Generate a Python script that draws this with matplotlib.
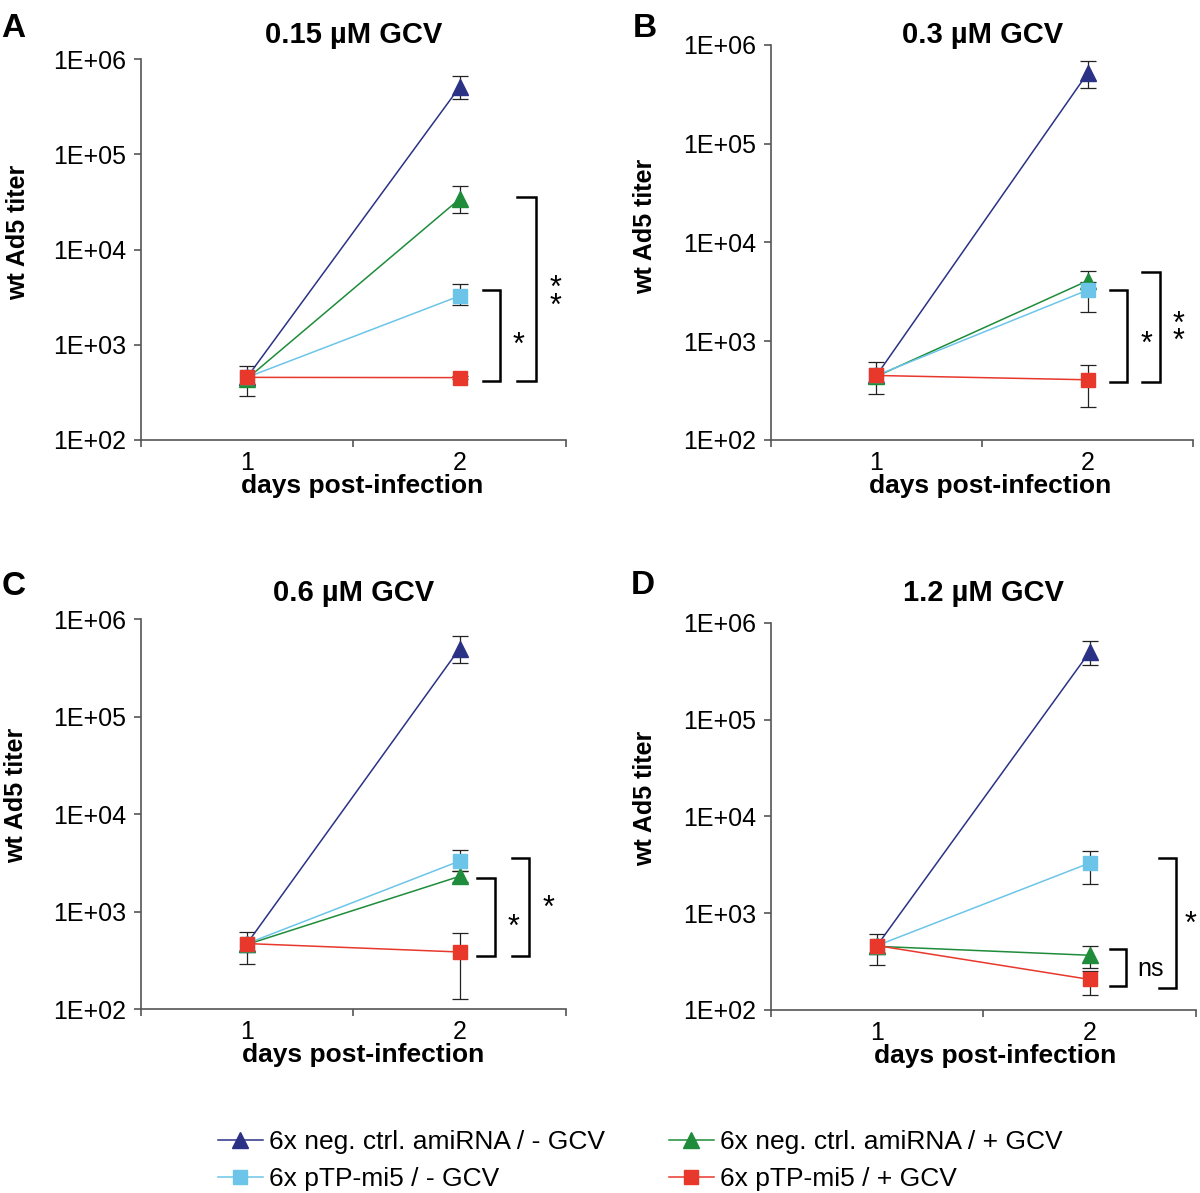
import numpy as np
import matplotlib

matplotlib.use('Agg')
from matplotlib import pyplot as plt
from matplotlib.lines import Line2D

plt.rcParams['font.family'] = ['Liberation Sans', 'DejaVu Sans']

nan = np.nan
days = [1, 2]
titles = ['0.15 µM GCV', '0.3 µM GCV', '0.6 µM GCV', '1.2 µM GCV']
letters = ['A', 'B', 'C', 'D']
names = ['6x neg. ctrl. amiRNA / - GCV', '6x neg. ctrl. amiRNA / + GCV',
         '6x pTP-mi5 / - GCV', '6x pTP-mi5 / + GCV']
colors = ['#2b3285', '#1e8c3a', '#6cc5e9', '#e8372b']
markers = ['^', '^', 's', 's']

# mean titer, one row per panel (A-D), columns = day 1, day 2
neg_minus = [[455, 5.1e5], [450, 5.2e5], [470, 5.0e5], [463, 5.0e5]]
neg_plus = [[440, 3.4e4], [440, 4.1e3], [460, 2.3e3], [455, 368]]
mi5_minus = [[455, 3.26e3], [450, 3.3e3], [470, 3.3e3], [463, 3.3e3]]
mi5_plus = [[455, 452], [450, 407], [470, 385], [463, 207]]

# error bar ends (upper / lower)
neg_minus_hi = [[605, 6.7e5], [615, 6.9e5], [615, 6.7e5], [615, 6.5e5]]
neg_minus_lo = [[290, 3.8e5], [290, 3.7e5], [293, 3.6e5], [290, 3.7e5]]
neg_plus_hi = [[nan, 4.7e4], [nan, 5.2e3], [nan, 2.6e3], [nan, 462]]
neg_plus_lo = [[nan, 2.4e4], [nan, 3.4e3], [nan, 2.0e3], [nan, 272]]
mi5_minus_hi = [[nan, 4.4e3], [nan, 4.0e3], [nan, 4.3e3], [nan, 4.4e3]]
mi5_minus_lo = [[nan, 2.6e3], [nan, 2.0e3], [nan, 2.6e3], [nan, 2.0e3]]
mi5_plus_hi = [[nan, 470], [nan, 570], [nan, 610], [nan, 254]]
mi5_plus_lo = [[nan, 435], [nan, 218], [nan, 128], [nan, 144]]

means = [neg_minus, neg_plus, mi5_minus, mi5_plus]
his = [neg_minus_hi, neg_plus_hi, mi5_minus_hi, mi5_plus_hi]
los = [neg_minus_lo, neg_plus_lo, mi5_minus_lo, mi5_plus_lo]

# significance brackets: (top, bottom, x of vertical, x of arms)
brackets = [
    [(3.8e3, 418, 2.191, 2.111), (3.6e4, 415, 2.359, 2.271)],
    [(3.3e3, 386, 2.186, 2.104), (5.0e3, 386, 2.340, 2.257)],
    [(2.2e3, 352, 2.167, 2.083), (3.56e3, 352, 2.326, 2.245)],
    [(430, 176, 2.172, 2.094), (3.68e3, 170, 2.406, 2.328)],
]
marks = [
    [(2.276, 1.2e3, '*'), (2.45, 3.8e3, '**')],
    [(2.28, 1.1e3, '*'), (2.431, 1.46e3, '**')],
    [(2.254, 818, '*'), (2.417, 1.28e3, '*')],
    [(2.285, 267, 'ns'), (2.474, 925, '*')],
]

# axes boxes in figure fractions
boxes = [
    [0.1173, 0.6312, 0.3542, 0.3191],
    [0.6423, 0.6312, 0.3522, 0.3311],
    [0.1173, 0.1542, 0.3542, 0.3267],
    [0.6423, 0.1534, 0.3542, 0.3244],
]
ylab_pos = [(-0.289, 0.545), (-0.297, 0.540), (-0.293, 0.547), (-0.296, 0.548)]
xlab_x = [0.521, 0.519, 0.522, 0.529]
title_y = [0.964, 0.964, 0.4962, 0.4962]
letter_pos = [(0.001, 0.969), (0.527, 0.969), (0.001, 0.5013), (0.526, 0.502)]

fig = plt.figure(figsize=(12, 11.93), dpi=100)
spine_c = '#555555'
star_fs = 22

for p in range(4):
    ax = fig.add_axes(boxes[p])
    ax.set_yscale('log')
    ax.set_ylim(1e2, 1e6)
    ax.set_xlim(0.5, 2.5)
    for s in range(4):
        m = np.array(means[s][p], dtype=float)
        hi = np.array(his[s][p], dtype=float)
        lo = np.array(los[s][p], dtype=float)
        ok = np.isfinite(hi)
        x = np.array(days)[ok]
        ax.errorbar(x, m[ok], yerr=[m[ok] - lo[ok], hi[ok] - m[ok]], fmt='none',
                    ecolor='#222222', elinewidth=0.9, capsize=5.5, capthick=0.9,
                    zorder=2, clip_on=False)
        ax.plot(days, m, color=colors[s], lw=1.1, marker=markers[s],
                markersize=11 if markers[s] == '^' else 9.5, zorder=3 + s,
                clip_on=False)

    for top, bot, xv, xa in brackets[p]:
        ax.plot([xa, xv, xv, xa], [top, top, bot, bot], color='black', lw=1.8,
                clip_on=False, zorder=5, solid_joinstyle='miter')
    for mx, my, txt in marks[p]:
        if txt == 'ns':
            ax.annotate(txt, xy=(mx, my), ha='center', va='center', fontsize=18,
                        annotation_clip=False)
        else:
            label = '\n'.join(list(txt))
            ax.annotate(label, xy=(mx, my), xytext=(0, -0.27 * star_fs),
                        textcoords='offset points', ha='center', va='center',
                        fontsize=star_fs, linespacing=0.46, annotation_clip=False)

    for sp in ['top', 'right']:
        ax.spines[sp].set_visible(False)
    for sp in ['left', 'bottom']:
        ax.spines[sp].set_color(spine_c)
        ax.spines[sp].set_linewidth(1.2)

    ax.set_yticks([1e2, 1e3, 1e4, 1e5, 1e6])
    ax.set_yticklabels(['1E+02', '1E+03', '1E+04', '1E+05', '1E+06'])
    ax.yaxis.set_minor_locator(matplotlib.ticker.NullLocator())
    ax.tick_params(axis='y', direction='out', length=5, width=1.2, color=spine_c,
                   labelsize=18, pad=5.5)
    ax.set_xticks([0.5, 1.5, 2.5])
    ax.set_xticklabels(['', '', ''])
    ax.set_xticks(days, minor=True)
    ax.set_xticklabels(['1', '2'], minor=True)
    ax.tick_params(axis='x', which='major', direction='out', length=5, width=1.2,
                   color=spine_c)
    ax.tick_params(axis='x', which='minor', length=0, labelsize=18, pad=8)

    ax.set_ylabel('wt Ad5 titer', fontsize=18, fontweight='bold')
    ax.yaxis.label.set_va('center')
    ax.yaxis.set_label_coords(*ylab_pos[p])
    ax.set_xlabel('days post-infection', fontsize=19, fontweight='bold')
    ax.xaxis.label.set_va('baseline')
    ax.xaxis.set_label_coords(xlab_x[p], -53 / (boxes[p][3] * 1193))

    cx = boxes[p][0] + boxes[p][2] / 2
    fig.text(cx, title_y[p], titles[p], ha='center', va='baseline', fontsize=21,
             fontweight='bold')
    fig.text(letter_pos[p][0], letter_pos[p][1], letters[p], ha='left',
             va='baseline', fontsize=24, fontweight='bold')

order = [0, 2, 1, 3]
handles = [Line2D([], [], color=colors[s], lw=1.1, marker=markers[s],
                  markersize=11 if markers[s] == '^' else 9.5) for s in order]
fig.legend(handles, [names[s] for s in order], loc='upper left',
           bbox_to_anchor=(0.1817, 0.0530), ncol=2, frameon=False, fontsize=19,
           handlelength=1.7, handletextpad=0.25, columnspacing=2.4,
           labelspacing=0.5, borderaxespad=0, borderpad=0)

fig.savefig('out.png', dpi=100)
